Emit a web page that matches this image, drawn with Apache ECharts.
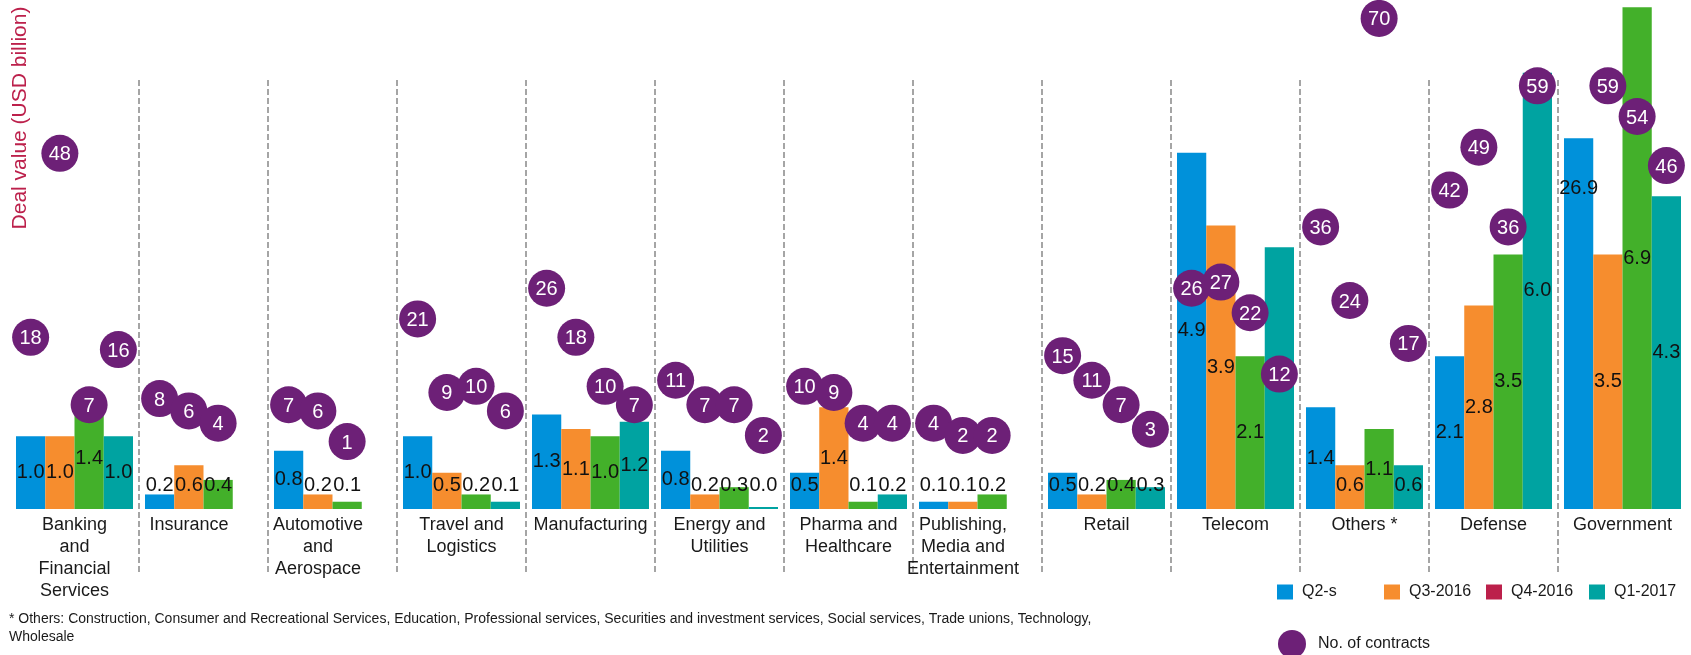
<!DOCTYPE html>
<html>
<head>
<meta charset="utf-8">
<title>Deal value by industry</title>
<script src="https://cdn.jsdelivr.net/npm/echarts@6.0.0/dist/echarts.min.js"></script>
<style>
  html, body { margin: 0; padding: 0; background: #fff; }
  #chart { width: 1691px; height: 655px; }
</style>
</head>
<body>
<div id="chart"></div>
<script>
  const categories = [
    'Banking\nand\nFinancial\nServices', 'Insurance', 'Automotive\nand\nAerospace', 'Travel and\nLogistics',
    'Manufacturing', 'Energy and\nUtilities', 'Pharma and\nHealthcare', 'Publishing,\nMedia and\nEntertainment',
    'Retail', 'Telecom', 'Others *', 'Defense', 'Government'
  ]
  const quarters = ['Q2-s', 'Q3-2016', 'Q4-2016', 'Q1-2017']

  // deal value, USD billion
  const q2Value = [1.0, 0.2, 0.8, 1.0, 1.3, 0.8, 0.5, 0.1, 0.5, 4.9, 1.4, 2.1, 26.9]
  const q3Value = [1.0, 0.6, 0.2, 0.5, 1.1, 0.2, 1.4, 0.1, 0.2, 3.9, 0.6, 2.8, 3.5]
  const q4Value = [1.4, 0.4, 0.1, 0.2, 1.0, 0.3, 0.1, 0.2, 0.4, 2.1, 1.1, 3.5, 6.9]
  const q1Value = [1.0, null, null, 0.1, 1.2, 0.0, 0.2, null, 0.3, 3.6, 0.6, 6.0, 4.3]

  // no. of contracts
  const q2Contracts = [18, 8, 7, 21, 26, 11, 10, 4, 15, 26, 36, 42, null]
  const q3Contracts = [48, 6, 6, 9, 18, 7, 9, 2, 11, 27, 24, 49, 59]
  const q4Contracts = [7, 4, 1, 10, 10, 7, 4, 2, 7, 22, 70, 36, 54]
  const q1Contracts = [16, null, null, 6, 7, 2, 4, null, 3, 12, 17, 59, 46]

  const footnote = '* Others: Construction, Consumer and Recreational Services, Education, Professional services, Securities and investment services, Social services, Trade unions, Technology,\nWholesale'

  const FONT = '"Liberation Sans", Arial, sans-serif'
  const AXIS_MAX = 7
  const BROKEN_AT = 5.1 // values above the axis are drawn cut short, as in the original
  const LABEL_FLOOR = 0.66 // smaller bars get their label lifted off the baseline
  const colors = ['#0091DA', '#F68D2E', '#43B02A', '#00A3A1']

  const valueSets = [q2Value, q3Value, q4Value, q1Value]
  const contractSets = [q2Contracts, q3Contracts, q4Contracts, q1Contracts]

  function barData(values) {
    return values.map(v => {
      if (v === null) return '-'
      if (v > AXIS_MAX) {
        return { value: BROKEN_AT, label: { position: 'insideTop', distance: 40 } }
      }
      const item = { value: v }
      if (v < LABEL_FLOOR) {
        item.label = { position: 'insideBottom', distance: 14 }
      }
      return item
    })
  }

  // industries without a Q1-2017 bar keep their name under the bars they have
  const categoryData = categories.map((name, i) => (
    q1Value[i] === null ? { value: name, textStyle: { padding: [0, 29, 0, 0] } } : name
  ))

  const barSeries = valueSets.map((values, i) => ({
    name: quarters[i],
    type: 'bar',
    barGap: '0%',
    barCategoryGap: '9.3%',
    barMinHeight: 2,
    z: 2,
    itemStyle: { color: colors[i] },
    label: {
      show: true,
      position: 'inside',
      color: '#111',
      fontSize: 20,
      fontFamily: FONT,
      formatter: p => values[p.dataIndex].toFixed(1)
    },
    data: barData(values)
  }))

  const contractSeries = contractSets.map(values => ({
    name: 'No. of contracts',
    type: 'pictorialBar',
    yAxisIndex: 1,
    barGap: '0%',
    barCategoryGap: '9.3%',
    symbol: 'circle',
    symbolSize: 37,
    symbolPosition: 'end',
    symbolOffset: [0, '-50%'],
    z: 4,
    itemStyle: { color: '#6D2077' },
    label: {
      show: true,
      position: 'top',
      distance: 0,
      verticalAlign: 'middle',
      offset: [0, 20],
      color: '#fff',
      fontSize: 20,
      fontFamily: FONT
    },
    data: values.map(v => (v === null ? '-' : v))
  }))

  function legendItem(name, left, color) {
    return {
      data: [color ? { name: name, itemStyle: { color: color } } : name],
      left: left,
      top: 584,
      padding: 0,
      icon: 'rect',
      itemWidth: 16,
      itemHeight: 15,
      textStyle: { fontSize: 16, color: '#1a1a1a', fontFamily: FONT, padding: [0, 0, 0, 4] }
    }
  }

  const chart = echarts.init(document.getElementById('chart'))
  chart.setOption({
    animation: false,
    textStyle: { fontFamily: FONT },
    title: {
      text: footnote,
      left: 9,
      top: 610,
      padding: 0,
      textStyle: { fontSize: 14, fontWeight: 'normal', color: '#1a1a1a', lineHeight: 18, fontFamily: FONT }
    },
    legend: [
      legendItem('Q2-s', 1277),
      legendItem('Q3-2016', 1384),
      legendItem('Q4-2016', 1486, '#BC204B'),
      legendItem('Q1-2017', 1589),
      {
        data: ['No. of contracts'],
        left: 1278,
        top: 630,
        padding: 0,
        icon: 'circle',
        itemWidth: 28,
        itemHeight: 28,
        itemStyle: { color: '#6D2077' },
        textStyle: { fontSize: 16, color: '#1a1a1a', fontFamily: FONT, padding: [0, 0, 0, 7] }
      }
    ],
    graphic: [{
      type: 'text',
      x: 20,
      y: 118,
      rotation: Math.PI / 2,
      style: {
        text: 'Deal value (USD billion)',
        fill: '#BC204B',
        fontSize: 21,
        fontFamily: FONT,
        align: 'center',
        verticalAlign: 'middle'
      }
    }],
    grid: [
      { top: 0, bottom: 146, left: 10, right: 4 },
      // only carries the dashed separators between industries
      { top: 80, bottom: 83, left: 10, right: 4 }
    ],
    xAxis: [
      {
        type: 'category',
        data: categoryData,
        axisLine: { show: false },
        axisTick: { show: false },
        axisLabel: {
          interval: 0,
          margin: 5,
          fontSize: 18,
          lineHeight: 22,
          color: '#1a1a1a',
          fontFamily: FONT
        }
      },
      {
        type: 'category',
        gridIndex: 1,
        data: categories,
        axisLine: { show: false },
        axisTick: { show: false },
        axisLabel: { show: false },
        splitLine: {
          show: true,
          interval: 0,
          showMinLine: false,
          showMaxLine: false,
          lineStyle: { type: [6, 3], color: '#888', width: 1.5 }
        }
      }
    ],
    yAxis: [
      { type: 'value', min: 0, max: AXIS_MAX, show: false },
      { type: 'value', min: -10, max: 73, show: false },
      { type: 'value', gridIndex: 1, show: false }
    ],
    series: barSeries.concat(contractSeries)
  })
</script>
</body>
</html>
